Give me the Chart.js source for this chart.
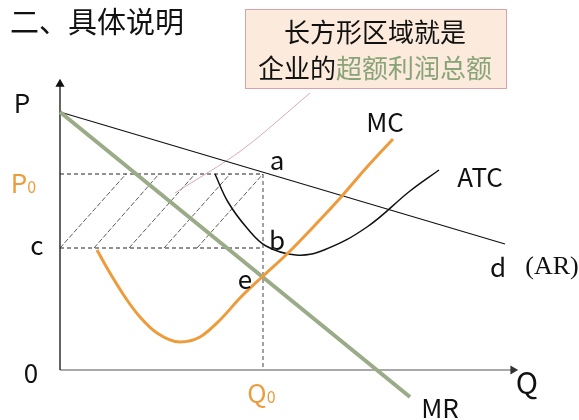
<!DOCTYPE html>
<html>
<head>
<meta charset="utf-8">
<script src="https://cdn.jsdelivr.net/npm/chart.js@4.4.0/dist/chart.umd.min.js"></script>
<style>
body { margin: 0; background: #fff; }
canvas { display: block; }
</style>
</head>
<body>
<canvas id="econChart" width="579" height="420"></canvas>
<script>
// values, in (Q, P) units
const arLine = [{x: 0, y: 12.9}, {x: 22.25, y: 6.3}];
const mrLine = [{x: 0, y: 12.9}, {x: 17.5, y: -1.35}];
const mcCurve = [
  {x: 1.85, y: 6.0}, {x: 2.35, y: 5.1}, {x: 3.35, y: 3.5}, {x: 4.0, y: 2.65},
  {x: 4.85, y: 1.85}, {x: 6.0, y: 1.4}, {x: 7.0, y: 1.65}, {x: 8.0, y: 2.5},
  {x: 9.0, y: 3.6}, {x: 10.1, y: 4.65}, {x: 11.35, y: 5.8}, {x: 12.85, y: 7.35},
  {x: 14.1, y: 8.7}, {x: 15.35, y: 10.15}, {x: 16.65, y: 11.55}
];
const atcCurve = [
  {x: 7.75, y: 9.8}, {x: 8.4, y: 8.4}, {x: 9.35, y: 7.1}, {x: 10.3, y: 6.2},
  {x: 11.8, y: 5.75}, {x: 13.2, y: 6.0}, {x: 15.35, y: 7.15}, {x: 17.5, y: 8.95},
  {x: 18.95, y: 10.0}
];
const pointerLine = [{x: 5.75, y: 8.85}, {x: 9.1, y: 11.0}, {x: 12.5, y: 13.85}];
const q0 = 10.15;
const p0 = 9.8;
const cLevel = 6.1;
const hatchBottom = [0, 1.7, 3.45, 5.2, 6.85];
const hatchTop = [3.3, 4.95, 6.75, 8.5, 10.15];
const axisTopP = 14.3;
const axisEndQ = 22.65;

const orange = '#ee9b3c';
const green = '#9aab88';

// labels placed in (Q, P) units
const labels = [
  {text: 'P', x: -1.9, y: 13.35},
  {text: 'P', sub: '0', x: -2.05, y: 9.35, color: orange},
  {text: 'c', x: -1.15, y: 6.25},
  {text: '0', x: -1.45, y: -0.15},
  {text: 'a', x: 10.85, y: 10.5},
  {text: 'b', x: 10.85, y: 6.5},
  {text: 'e', x: 9.25, y: 4.55},
  {text: 'MC', x: 16.25, y: 12.4},
  {text: 'ATC', x: 21.0, y: 9.65},
  {text: 'd', x: 21.9, y: 5.15},
  {text: '(AR)', x: 24.6, y: 5.15, font: '26px "Liberation Serif", serif'},
  {text: 'Q', x: 23.35, y: -0.65, size: 30},
  {text: 'Q', sub: '0', x: 9.85, y: -1.15, color: orange},
  {text: 'MR', x: 19.0, y: -1.9}
];

const cjk = '"Noto Sans CJK SC", "Noto Sans", sans-serif';

function lineSet(data, color, width, dash) {
  return {
    data: data,
    showLine: true,
    borderColor: color,
    borderWidth: width,
    borderDash: dash || [],
    pointRadius: 0,
    fill: false,
    clip: false
  };
}

const datasets = [];
datasets.push(Object.assign(lineSet(mcCurve, orange, 3), {cubicInterpolationMode: 'monotone'}));
datasets.push(lineSet(mrLine, green, 4));
datasets.push(Object.assign(lineSet(atcCurve, '#111', 1.5), {tension: 0.4}));
datasets.push(lineSet(arLine, '#111', 1.2));
datasets.push(Object.assign(lineSet(pointerLine, '#d9a9b9', 1), {tension: 0.3}));
datasets.push(lineSet([{x: 0, y: p0}, {x: q0, y: p0}], '#222', 1, [4, 3]));
datasets.push(lineSet([{x: 0, y: cLevel}, {x: q0, y: cLevel}], '#222', 1, [4, 3]));
datasets.push(lineSet([{x: q0, y: p0}, {x: q0, y: 0}], '#444', 1, [4, 3]));
hatchBottom.forEach(function(q, i) {
  datasets.push(lineSet([{x: q, y: cLevel}, {x: hatchTop[i], y: p0}], '#333', 0.8, [5, 2]));
});
// axes with arrow heads
datasets.push(Object.assign(lineSet([{x: 0, y: 0}, {x: 0, y: axisTopP}], '#111', 1.3), {
  pointRadius: [0, 4], pointStyle: 'triangle', pointRotation: 0,
  pointBackgroundColor: '#111', pointBorderColor: '#111'
}));
datasets.push(Object.assign(lineSet([{x: 0, y: 0}, {x: axisEndQ, y: 0}], '#555', 1.2), {
  pointRadius: [0, 4], pointStyle: 'triangle', pointRotation: 90,
  pointBackgroundColor: '#333', pointBorderColor: '#333'
}));

const textPlugin = {
  id: 'textPlugin',
  afterDraw: function(chart) {
    const ctx = chart.ctx;
    const xs = chart.scales.x, ys = chart.scales.y;
    ctx.save();
    // heading
    ctx.fillStyle = '#111';
    ctx.font = '29px ' + cjk;
    ctx.textAlign = 'left';
    ctx.textBaseline = 'middle';
    ctx.fillText('二、具体说明', 10, 22);

    // note box
    ctx.fillStyle = '#fcebdd';
    ctx.fillRect(245, 9, 261, 79);
    ctx.strokeStyle = '#d6a3aa';
    ctx.lineWidth = 1;
    ctx.strokeRect(245.5, 9.5, 261, 79);
    ctx.font = '26px ' + cjk;
    ctx.textAlign = 'center';
    ctx.fillStyle = '#111';
    ctx.fillText('长方形区域就是', 375, 32);
    const part1 = '企业的', part2 = '超额利润总额';
    const w1 = ctx.measureText(part1).width, w2 = ctx.measureText(part2).width;
    const startX = 375 - (w1 + w2) / 2;
    ctx.textAlign = 'left';
    ctx.fillText(part1, startX, 68);
    ctx.fillStyle = '#88a477';
    ctx.fillText(part2, startX + w1, 68);

    // axis and curve labels
    labels.forEach(function(l) {
      const px = xs.getPixelForValue(l.x);
      const py = ys.getPixelForValue(l.y);
      ctx.fillStyle = l.color || '#111';
      ctx.font = l.font || ((l.size || 26) + 'px ' + cjk);
      ctx.textBaseline = 'middle';
      if (l.sub) {
        ctx.textAlign = 'left';
        const w = ctx.measureText(l.text).width;
        ctx.fillText(l.text, px - w / 2, py);
        ctx.font = '16px ' + cjk;
        ctx.fillText(l.sub, px + w / 2, py + 4);
      } else {
        ctx.textAlign = 'center';
        ctx.fillText(l.text, px, py);
      }
    });
    ctx.restore();
  }
};

new Chart(document.getElementById('econChart'), {
  type: 'scatter',
  data: {datasets: datasets},
  options: {
    responsive: false,
    animation: false,
    layout: {padding: 0, autoPadding: false},
    plugins: {legend: {display: false}, tooltip: {enabled: false}},
    scales: {
      x: {type: 'linear', min: -3, max: 25.95, display: false},
      y: {type: 'linear', min: -2.5, max: 18.5, display: false}
    }
  },
  plugins: [textPlugin]
});
</script>
</body>
</html>
